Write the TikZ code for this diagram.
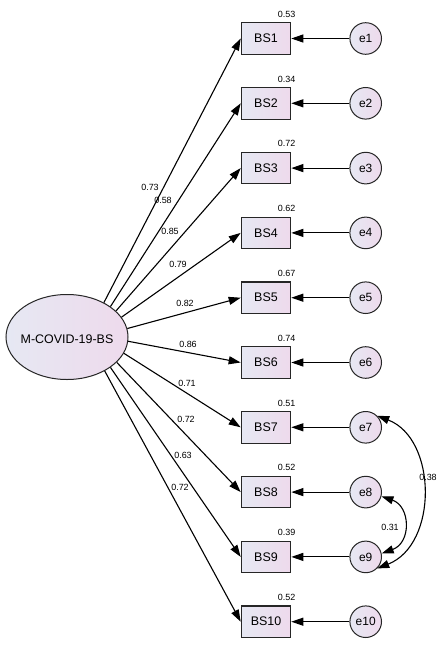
\documentclass[tikz,border=0pt]{standalone}
\usepackage{fontspec}
\setmainfont{Liberation Sans}
\usetikzlibrary{arrows.meta,shapes.geometric,calc}
\definecolor{fillL}{HTML}{E6E8F3}
\definecolor{fillR}{HTML}{EEDAEC}
\begin{document}
\begin{tikzpicture}[x=1bp,y=-1bp,
  every node/.style={inner sep=0pt},
  obs/.style={draw=black!85, line width=1.1bp, minimum width=49.5bp, minimum height=31.5bp,
    left color=fillL, right color=fillR, font=\fontsize{12.5}{14}\selectfont},
  err/.style={circle, draw=black!85, line width=1bp, minimum size=31.6bp,
    left color=fillL, right color=fillR, font=\fontsize{12}{14}\selectfont},
  lat/.style={ellipse, draw=black!85, line width=1bp, minimum width=122bp, minimum height=85bp,
    left color=fillL, right color=fillR, font=\fontsize{12.5}{14}\selectfont},
  num/.style={font=\fontsize{9}{10}\selectfont},
  arr/.style={-{Triangle[length=12bp,width=8bp]}, line width=1.1bp},
  biarr/.style={{Triangle[length=12bp,width=8bp]}-{Triangle[length=12bp,width=8bp]}, line width=1.1bp}]
\fill[white] (0,0) rectangle (445,654);
\useasboundingbox (0,0) rectangle (445,654);
\node[lat] (L) at (67,337) {};
\node[font=\fontsize{12.5}{14}\selectfont] (LT) at (67,339.5) {M-COVID-19-BS};
\foreach \i/\v/\a in {1/0.53/43,2/0.34/35,3/0.72/28,4/0.62/20,5/0.67/8,6/0.74/-4,7/0.51/-16,8/0.52/-27,9/0.39/-35,10/0.52/-42}{
  \pgfmathsetmacro\yy{38.5+(\i-1)*64.8}
  \node[obs] (B\i) at (266,\yy) {BS\i};
  \node[err] (E\i) at (365.7,\yy) {e\i};
  \node[num] (V\i) at (286.7,\yy-24.2) {\v};
  \draw[arr] (E\i) -- (B\i);
  \draw[arr] (L.\a) -- (B\i.west);
}
\foreach \i/\v/\px/\py in {1/0.73/150/187,2/0.58/163/200,3/0.85/170/231,4/0.79/178/264,5/0.82/185/303,
  6/0.86/188/344,7/0.71/187/383,8/0.72/186/419,9/0.63/183/455,10/0.72/180/487}{
  \node[num] (W\i) at (\px,\py) {\v};
}
\draw[biarr] (E7.45) .. controls ($(E7.45)+(60,23)$) and ($(E9.-45)+(61,-24)$) .. (E9.-45);
\draw[biarr] (E8.-15) .. controls ($(E8.-15)+(29,10)$) and ($(E9.12)+(30,-11)$) .. (E9.12);
\node[num] (C1) at (428,477) {0.38};
\node[num] (C2) at (390,527) {0.31};
\end{tikzpicture}
\end{document}
